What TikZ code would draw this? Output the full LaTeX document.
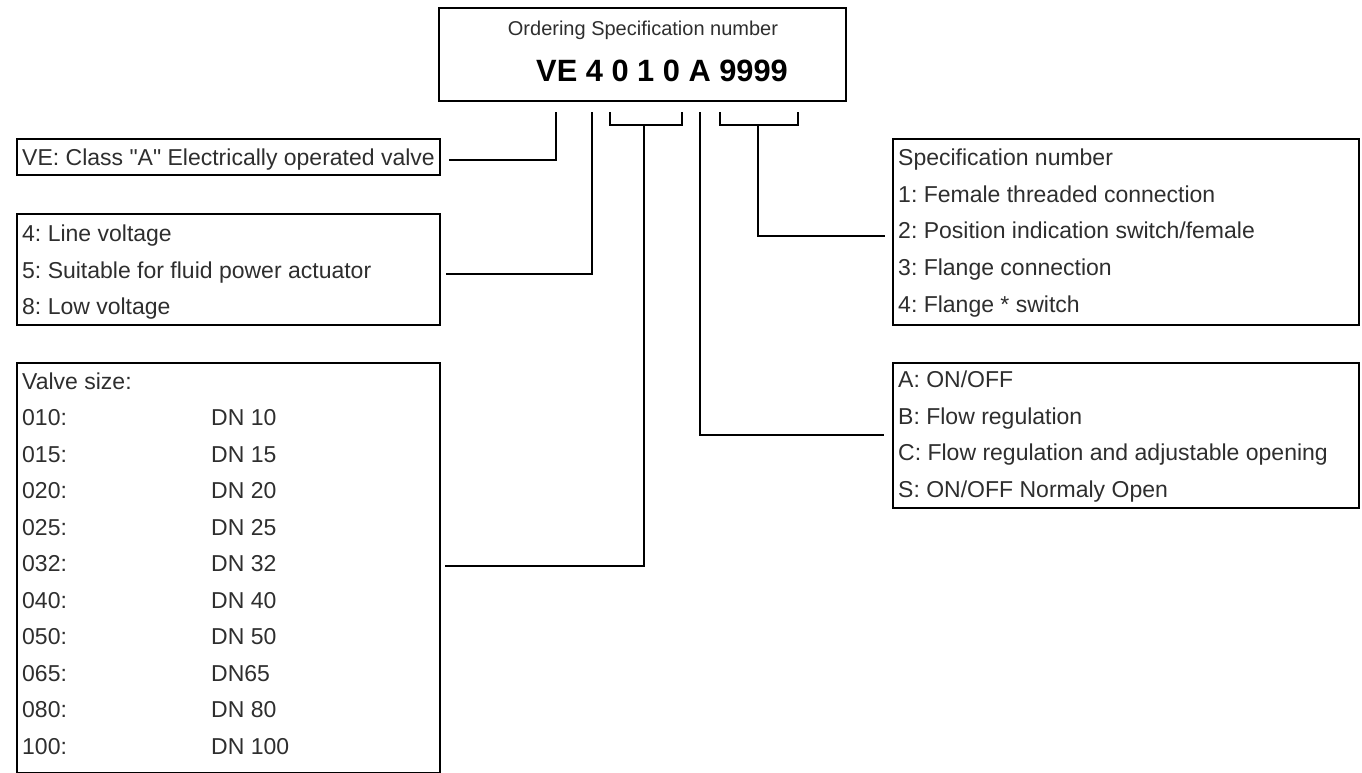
\documentclass[tikz,border=0pt]{standalone}
\usepackage{fontspec}
\newfontfamily\lsans{Liberation Sans}
\frenchspacing
\begin{document}
\begin{tikzpicture}[x=1pt,y=-1pt,
  box/.style={draw, line width=1.8pt, inner sep=0pt, anchor=north west},
  txt/.style={anchor=base west, inner sep=0pt, text=black!82, font=\lsans\fontsize{23}{27}\selectfont\frenchspacing},
  conn/.style={line width=1.8pt, line join=miter, line cap=rect}]
\useasboundingbox (0,0) rectangle (1362,773);

% header box
\node[box, minimum width=407pt, minimum height=93pt] (hdr) at (438,7) {};
\node[anchor=base, inner sep=0pt, text=black!82, font=\lsans\fontsize{20}{24}\selectfont] (title) at (643,36) {Ordering Specification number};
\node[anchor=base west, inner sep=0pt, font=\lsans\fontsize{30.8}{36}\selectfont\bfseries] (code) at (536,82) {VE 4 0 1 0 A 9999};

% left boxes
\node[box, minimum width=423pt, minimum height=36pt] (ve) at (16,138) {};
\node[txt] (ve1) at (22,165) {VE: Class "A" Electrically operated valve};

\node[box, minimum width=423pt, minimum height=111pt] (lv) at (16,213) {};
\node[txt] (lv1) at (22,241) {4: Line voltage};
\node[txt] (lv2) at (22,278) {5: Suitable for fluid power actuator};
\node[txt] (lv3) at (22,314.5) {8: Low voltage};

\node[box, minimum width=423pt, minimum height=410pt] (vs) at (16,362) {};
\node[txt] (vs0) at (22,389) {Valve size:};
\foreach \a/\b [count=\i] in {010/DN 10,015/DN 15,020/DN 20,025/DN 25,032/DN 32,040/DN 40,050/DN 50,065/DN65,080/DN 80,100/DN 100}{
  \node[txt] (vsa\i) at (22,389+\i*36.5) {\a:};
  \node[txt] (vsb\i) at (211,389+\i*36.5) {\b};
}

% right boxes
\node[box, minimum width=466pt, minimum height=186pt] (sp) at (892,138) {};
\node[txt] (sp0) at (898,165.5) {Specification number};
\node[txt] (sp1) at (898,202.2) {1: Female threaded connection};
\node[txt] (sp2) at (898,238.9) {2: Position indication switch/female};
\node[txt] (sp3) at (898,275.6) {3: Flange connection};
\node[txt] (sp4) at (898,312.3) {4: Flange * switch};

\node[box, minimum width=466pt, minimum height=145pt] (ab) at (892,362) {};
\node[txt] (ab1) at (898,387.5) {A: ON/OFF};
\node[txt] (ab2) at (898,424) {B: Flow regulation};
\node[txt] (ab3) at (898,460.5) {C: Flow regulation and adjustable opening};
\node[txt] (ab4) at (898,497) {S: ON/OFF Normaly Open};

% tick coordinates
\coordinate (tVE) at (556,113);
\coordinate (tLV) at (592,113);
\coordinate (b1l) at (610,113);
\coordinate (b1r) at (682,113);
\coordinate (b1m) at (644,125);
\coordinate (tA) at (700,113);
\coordinate (b2l) at (720,113);
\coordinate (b2r) at (798,113);
\coordinate (b2m) at (758,125);

% connectors
\draw[conn] (tVE) |- ([xshift=9pt,yshift=-3pt]ve.east);
\draw[conn] (tLV) |- ([xshift=6pt,yshift=-4.5pt]lv.east);
\draw[conn] (b1l) -- ++(0,12) -| (b1r);
\draw[conn] (b1m) |- ([xshift=5pt,yshift=2pt]vs.east);
\draw[conn] (tA) |- ([xshift=-9pt,yshift=0.5pt]ab.west);
\draw[conn] (b2l) -- ++(0,12) -| (b2r);
\draw[conn] (b2m) |- ([xshift=-8pt,yshift=-4pt]sp.west);
\end{tikzpicture}
\end{document}
